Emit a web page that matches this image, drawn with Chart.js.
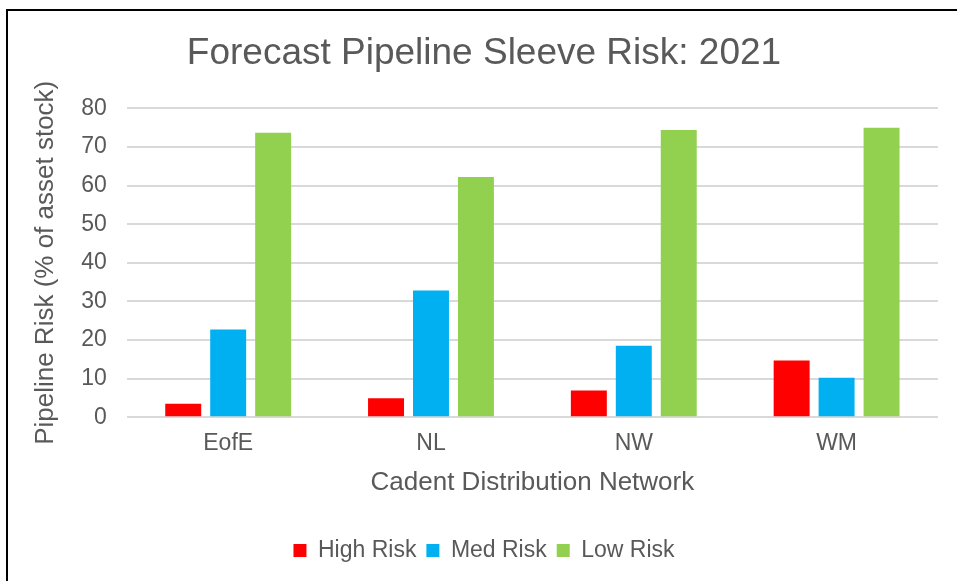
<!DOCTYPE html>
<html lang="en">
<head>
  <meta charset="UTF-8" />
  <title>Forecast Pipeline Sleeve Risk: 2021</title>
  <script src="https://cdn.jsdelivr.net/npm/chart.js"></script>
  <style>
    html, body {
      margin: 0;
      padding: 0;
      background: #fff;
      overflow: hidden;
    }

    .frame {
      position: absolute;
      left: 6px;
      top: 9px;
      width: 1000px;
      height: 700px;
      border: 2px solid #000;
    }

    #chart-container {
      position: absolute;
      left: 0;
      top: 0;
      width: 957px;
      height: 581px;
    }
  </style>
</head>
<body>
  <div class="frame"></div>
  <div id="chart-container">
    <canvas id="riskChart"></canvas>
  </div>

  <script>
    const networks = ["EofE", "NL", "NW", "WM"];
    const highRisk = [3.5, 4.9, 6.9, 14.7];
    const medRisk = [22.7, 32.8, 18.5, 10.2];
    const lowRisk = [73.7, 62.2, 74.4, 75.0];

    const textColor = "#595959";
    const gridColor = "#d9d9d9";
    const fontFamily = "'Liberation Sans', Arial, sans-serif";

    const ctx = document.getElementById("riskChart").getContext("2d");
    new Chart(ctx, {
      type: "bar",
      data: {
        labels: networks,
        datasets: [
          { label: "High Risk", data: highRisk, backgroundColor: "#ff0000" },
          { label: "Med Risk", data: medRisk, backgroundColor: "#00b0f0" },
          { label: "Low Risk", data: lowRisk, backgroundColor: "#92d050" }
        ]
      },
      options: {
        responsive: true,
        maintainAspectRatio: false,
        animation: false,
        datasets: {
          bar: {
            barPercentage: 0.8,
            categoryPercentage: 0.665
          }
        },
        layout: {
          padding: { left: 30, right: 19, top: 0, bottom: 9 }
        },
        plugins: {
          title: {
            display: true,
            text: "Forecast Pipeline Sleeve Risk: 2021",
            color: textColor,
            font: { family: fontFamily, size: 37, weight: "normal" },
            padding: { top: 32, bottom: 32 }
          },
          legend: {
            position: "bottom",
            labels: {
              color: textColor,
              font: { family: fontFamily, size: 23 },
              boxWidth: 13,
              boxHeight: 13,
              padding: 10
            }
          },
          tooltip: { enabled: false }
        },
        scales: {
          x: {
            grid: { display: false, drawTicks: false },
            border: { display: false },
            ticks: {
              color: textColor,
              font: { family: fontFamily, size: 23 },
              padding: 13
            },
            title: {
              display: true,
              text: "Cadent Distribution Network",
              color: textColor,
              font: { family: fontFamily, size: 26 },
              padding: { top: -4, bottom: 31 }
            }
          },
          y: {
            min: 0,
            max: 80,
            ticks: {
              stepSize: 10,
              color: textColor,
              font: { family: fontFamily, size: 23 },
              padding: 20
            },
            grid: {
              color: gridColor,
              lineWidth: 2,
              drawTicks: false
            },
            border: { display: false },
            title: {
              display: true,
              text: "Pipeline Risk (% of asset stock)",
              color: textColor,
              font: { family: fontFamily, size: 26 },
              padding: { top: 0, bottom: 0 }
            }
          }
        }
      }
    });
  </script>
</body>
</html>
